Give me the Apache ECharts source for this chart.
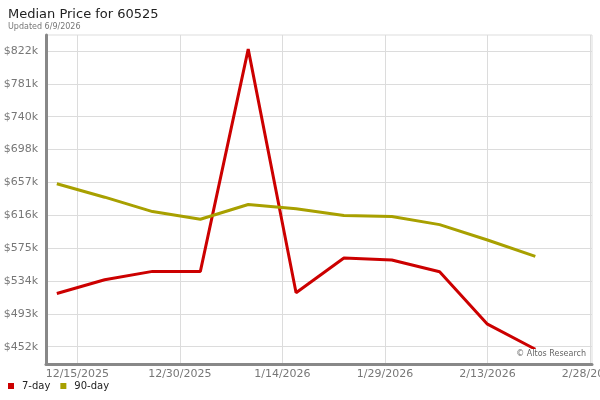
<!DOCTYPE html>
<html>
<head>
<meta charset="utf-8">
<script src="https://cdn.jsdelivr.net/npm/echarts@6/dist/echarts.min.js"></script>
<style>html,body{margin:0;padding:0;background:#fff}#c{width:600px;height:400px}</style>
</head>
<body>
<div id="c"></div>
<script>
const dates = ['2025-12-12','2025-12-19','2025-12-26','2026-01-02','2026-01-09','2026-01-16','2026-01-23','2026-01-30','2026-02-06','2026-02-13','2026-02-20'];
const sevenDay = [518500, 535700, 546100, 546100, 824000, 519500, 562900, 560400, 545700, 480100, 448700];
const ninetyDay = [655700, 638900, 620900, 611300, 629700, 624300, 615900, 614700, 604600, 585400, 564900];
const yTicks = [452000, 493080, 534160, 575240, 616320, 657400, 698480, 739560, 780640, 821720];
const xTicks = ['2025-12-15','2025-12-30','2026-01-14','2026-01-29','2026-02-13','2026-02-28'];

function toTime(s, h) {
  const p = s.split('-').map(Number);
  return new Date(p[0], p[1] - 1, p[2], h || 0).getTime();
}

const chart = echarts.init(document.getElementById('c'), null, {renderer: 'canvas'});
const font = 'DejaVu Sans';
chart.setOption({
  animation: false,
  backgroundColor: '#fff',
  textStyle: {fontFamily: font},
  title: [{
    text: 'Median Price for 60525',
    subtext: 'Updated 6/9/2026',
    left: 3, top: 3,
    itemGap: 2,
    textStyle: {fontFamily: font, fontSize: 13, fontWeight: 'normal', color: '#222'},
    subtextStyle: {fontFamily: font, fontSize: 8, color: '#777'}
  }, {
    text: '© Altos Research',
    right: 10, bottom: 41,
    padding: [1, 4],
    backgroundColor: '#fff',
    textStyle: {fontFamily: font, fontSize: 8, fontWeight: 'normal', color: '#666'}
  }],
  legend: {
    left: 8, top: 381, padding: 0,
    itemWidth: 6, itemHeight: 6, itemGap: 10,
    icon: 'rect',
    textStyle: {fontFamily: font, fontSize: 10, color: '#222', padding: [0, 0, 0, 3]},
    data: ['7-day', '90-day']
  },
  grid: {
    left: 46, right: 8, top: 35, bottom: 36,
    show: true, borderColor: '#dddddd', borderWidth: 1,
    outerBoundsMode: 'none',
    containLabel: false
  },
  xAxis: {
    type: 'value',
    min: toTime('2025-12-10', 10),
    max: toTime('2026-02-28', 7),
    axisLine: {show: true, onZero: false, lineStyle: {color: '#888', width: 3}},
    axisTick: {show: false, customValues: xTicks.map(s => toTime(s))},
    axisLabel: {
      customValues: xTicks.map(s => toTime(s)),
      color: '#777', fontSize: 11, fontFamily: font, margin: 5,
      hideOverlap: false,
      formatter: function (v) { const d = new Date(v); return (d.getMonth() + 1) + '/' + d.getDate() + '/' + d.getFullYear(); }
    },
    splitLine: {show: true, lineStyle: {color: '#dcdcdc', width: 1}}
  },
  yAxis: {
    type: 'value',
    min: 430300, max: 841700,
    axisLine: {show: true, onZero: false, lineStyle: {color: '#888', width: 3}},
    axisTick: {show: false, customValues: yTicks},
    axisLabel: {
      customValues: yTicks,
      color: '#777', fontSize: 11, fontFamily: font, margin: 8,
      formatter: function (v) { return '$' + Math.round(v / 1000) + 'k'; }
    },
    splitLine: {show: true, lineStyle: {color: '#dcdcdc', width: 1}}
  },
  series: [{
    name: '7-day', type: 'line', showSymbol: false, symbol: 'none',
    color: '#cc0000',
    lineStyle: {width: 3, color: '#cc0000'},
    data: dates.map((d, i) => [toTime(d), sevenDay[i]])
  }, {
    name: '90-day', type: 'line', showSymbol: false, symbol: 'none',
    color: '#a8a000',
    lineStyle: {width: 3, color: '#a8a000'},
    data: dates.map((d, i) => [toTime(d), ninetyDay[i]])
  }]
});
</script>
</body>
</html>
